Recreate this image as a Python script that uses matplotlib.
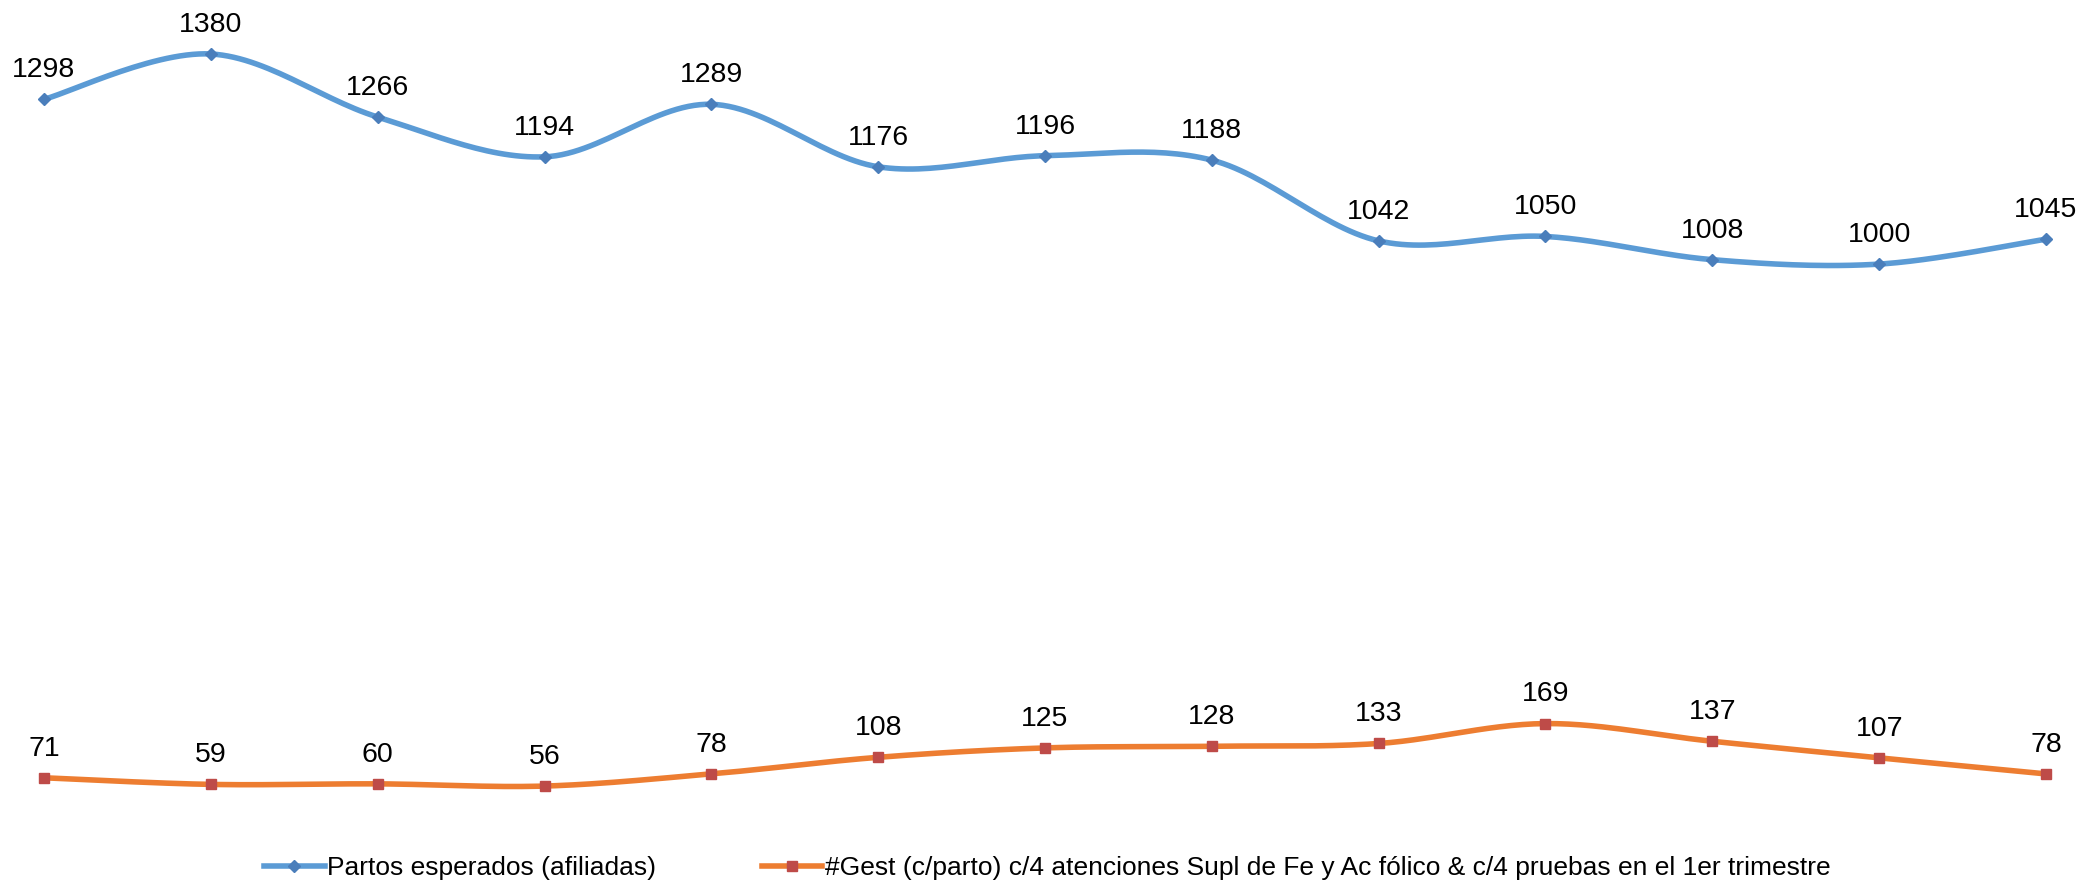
import numpy as np
import matplotlib
matplotlib.use("Agg")
import matplotlib.pyplot as plt

plt.rcParams['font.family'] = ['Liberation Sans', 'DejaVu Sans']

categories = list(range(13))
partos = [1298, 1380, 1266, 1194, 1289, 1176, 1196, 1188, 1042, 1050, 1008, 1000, 1045]
gest = [71, 59, 60, 56, 78, 108, 125, 128, 133, 169, 137, 107, 78]
series_names = ["Partos esperados (afiliadas)",
                "#Gest (c/parto) c/4 atenciones Supl de Fe y Ac fólico & c/4 pruebas en el 1er trimestre"]

def smooth(xs, ys, n=30, t=1/6):
    xs = np.asarray(xs, float); ys = np.asarray(ys, float)
    px, py = [], []
    N = len(xs)
    for i in range(N - 1):
        x0, y0 = (xs[i-1], ys[i-1]) if i > 0 else (xs[i], ys[i])
        x1, y1 = xs[i], ys[i]
        x2, y2 = xs[i+1], ys[i+1]
        x3, y3 = (xs[i+2], ys[i+2]) if i + 2 < N else (xs[i+1], ys[i+1])
        c1 = (x1 + (x2 - x0) * t, y1 + (y2 - y0) * t)
        c2 = (x2 - (x3 - x1) * t, y2 - (y3 - y1) * t)
        s = np.linspace(0, 1, n)
        bx = (1-s)**3*x1 + 3*(1-s)**2*s*c1[0] + 3*(1-s)*s**2*c2[0] + s**3*x2
        by = (1-s)**3*y1 + 3*(1-s)**2*s*c1[1] + 3*(1-s)*s**2*c2[1] + s**3*y2
        if i > 0:
            bx, by = bx[1:], by[1:]
        px.extend(bx); py.extend(by)
    return np.array(px), np.array(py)

fig = plt.figure(figsize=(20.82, 8.85), dpi=100)
ax = fig.add_axes([44/2082, 0.0768, (2046-44)/2082, 0.8747])
ax.set_xlim(0, 12)
ax.set_ylim(0, 1400)
ax.axis('off')

blue, blue_m = '#5B9BD5', '#4A7EBB'
orange, orange_m = '#ED7D31', '#BE4B48'

for vals, lc, mc, mk, ms, name in [(partos, blue, blue_m, 'D', 6, series_names[0]),
                                    (gest, orange, orange_m, 's', 7, series_names[1])]:
    sx, sy = smooth(categories, vals)
    ax.plot(sx, sy, color=lc, lw=4, solid_capstyle='round', zorder=2, clip_on=False)
    ax.plot(categories, vals, linestyle='none', marker=mk, ms=ms, color=mc, zorder=3, clip_on=False)
    ax.plot([], [], color=lc, lw=4, marker=mk, ms=ms, mfc=mc, mec=mc, label=name)
    for x, v in zip(categories, vals):
        ax.annotate(str(v), (x, v), xytext=(0, 21), textcoords='offset points',
                    ha='center', va='center', fontsize=20.5, color='black', clip_on=False)

fig.legend(loc='center', bbox_to_anchor=(0.503, (885-868)/885), ncol=2, frameon=False,
           fontsize=19, handlelength=2.3, columnspacing=4.0, handletextpad=0.1)

fig.savefig('out.png', dpi=100, facecolor='white')
